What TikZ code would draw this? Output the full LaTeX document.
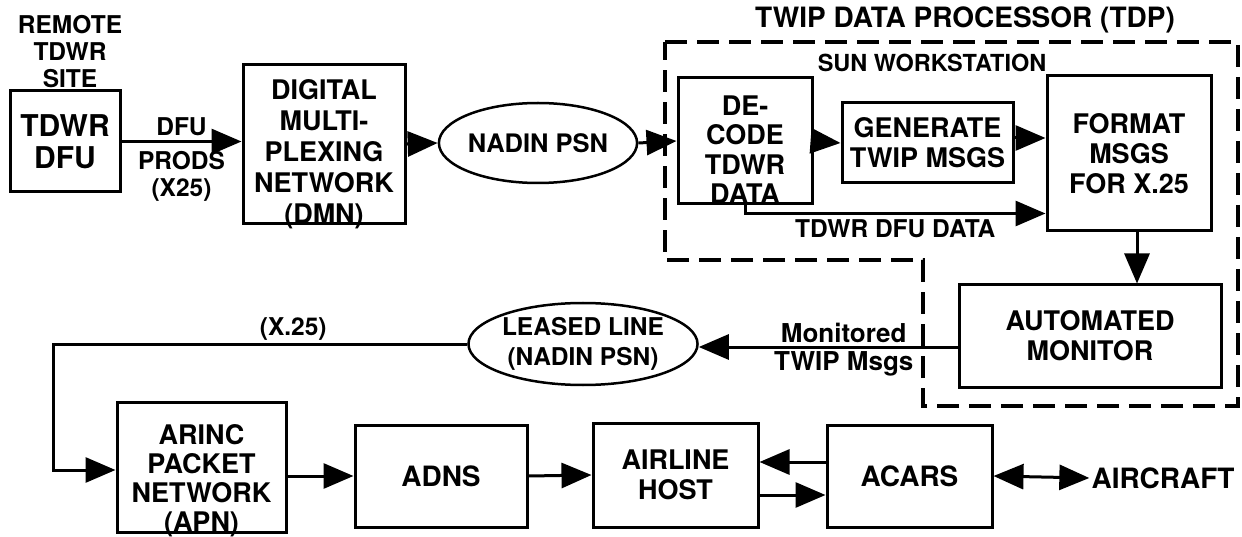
\documentclass[tikz,border=0pt]{standalone}
\usepackage{fontspec}
\setmainfont{TeX Gyre Heros}
\usetikzlibrary{shapes.geometric, arrows.meta, positioning}

\begin{document}
\begin{tikzpicture}[
    x=1pt, y=-1pt,
    box/.style={rectangle, draw, line width=3pt, align=center, inner sep=0pt, font=\fontsize{27}{30}\selectfont\bfseries},
    oval/.style={ellipse, draw, line width=2.5pt, align=center, inner sep=0pt, minimum width=197pt, font=\fontsize{24.5}{30}\selectfont\bfseries},
    tag/.style={align=center, inner sep=2pt, font=\fontsize{24.5}{27}\selectfont\bfseries},
    arrow/.style={line width=3pt, -{Triangle[length=30pt, width=25pt]}},
    tdp/.style={line width=3.5pt, dash pattern=on 22pt off 10pt}
]
\useasboundingbox (0,0) rectangle (1242,537);

\node[box, minimum width=110pt, minimum height=101pt, font=\fontsize{30}{32}\selectfont\bfseries] (dfu) at (65,141.5) {TDWR\\DFU};
\node[tag] (site) at (70,52) {REMOTE\\TDWR\\SITE};
\node[box, minimum width=162pt, minimum height=146pt, text height=159pt, text depth=-14pt, font=\fontsize{27}{31}\selectfont\bfseries] (dmn) at (324,144) {DIGITAL\\MULTI-\\PLEXING\\NETWORK\\(DMN)};
\node[oval, minimum height=80pt, font=\fontsize{25.5}{29}\selectfont\bfseries] (nadin) at (538,143) {NADIN PSN};

\node[tag, font=\fontsize{28}{30}\selectfont\bfseries] (title) at (965,20) {TWIP DATA PROCESSOR (TDP)};
\node[tag, font=\fontsize{23.5}{26}\selectfont\bfseries] (sun) at (932,63) {SUN WORKSTATION};
\node[box, minimum width=134pt, minimum height=118pt, text height=126pt, text depth=-9pt, font=\fontsize{27}{29.5}\selectfont\bfseries] (decode) at (745,141) {DE-\\CODE\\TDWR\\DATA};
\node[box, minimum width=171pt, minimum height=80pt] (gen) at (927.5,143) {GENERATE\\TWIP MSGS};
\node[box, minimum width=164pt, minimum height=155pt] (fmt) at (1129,153.5) {FORMAT\\MSGS\\FOR X.25};
\node[box, minimum width=262pt, minimum height=102pt] (auto) at (1090,336) {AUTOMATED\\MONITOR};

\node[oval, minimum height=82pt] (leased) at (583,344) {LEASED LINE\\(NADIN PSN)};
\node[box, minimum width=169pt, minimum height=130pt, text height=128pt, text depth=0pt, font=\fontsize{27}{29}\selectfont\bfseries] (apn) at (201.5,467) {ARINC\\PACKET\\NETWORK\\(APN)};
\node[box, minimum width=172pt, minimum height=102pt, font=\fontsize{28}{30}\selectfont\bfseries] (adns) at (441,476) {ADNS};
\node[box, minimum width=165pt, minimum height=104pt] (host) at (675.5,475) {AIRLINE\\HOST};
\node[box, minimum width=165pt, minimum height=102pt, font=\fontsize{28}{30}\selectfont\bfseries] (acars) at (909.5,476) {ACARS};
\node[tag, font=\fontsize{28}{30}\selectfont\bfseries] (aircraft) at (1163,478) {AIRCRAFT};
\coordinate (bend) at (53,345);

\draw[tdp] (665,42) -- (1238,42) -- (1238,406) -- (923,406) -- (923,260) -- (665,260) -- cycle;

\draw[arrow] (dfu.east) -- node[tag, above=2pt]{DFU} node[tag, below=6pt]{PRODS\\(X25)} (dfu.east -| dmn.west);
\draw[arrow] (dmn.east) -- (nadin.west);
\draw[arrow] (nadin.east) -- (decode.west);
\draw[arrow] (decode.east) -- (gen.west);
\draw[arrow] ([yshift=5pt]gen.east) -- ([yshift=5pt]gen.east -| fmt.west);
\draw[arrow] (decode.south) |- node[tag, pos=0.75, below=3pt]{TDWR DFU DATA} ([yshift=19pt]fmt.south west);
\draw[arrow] ([xshift=8pt]fmt.south) -- ([xshift=8pt]fmt.south |- auto.north);

\draw[arrow] ([yshift=-11pt]auto.west) -- node[tag, pos=0.44, above=1pt, font=\fontsize{26}{28}\selectfont\bfseries]{Monitored} node[tag, pos=0.44, below=1pt, font=\fontsize{26}{28}\selectfont\bfseries]{TWIP Msgs} ([yshift=-11pt]auto.west -| leased.east);
\draw[arrow] (leased.west) -- node[tag, pos=0.42, above=0pt]{(X.25)} (leased.west -| bend) |- ([yshift=-3pt]apn.west);

\draw[arrow] (adns.west -| apn.east) -- (adns.west);
\draw[arrow] (adns.east) -- (host.west);
\draw[arrow] ([yshift=14pt]acars.west) -- ([yshift=14pt]acars.west -| host.east);
\draw[arrow] ([yshift=-20pt]host.east) -- ([yshift=-20pt]host.east -| acars.west);
\draw[arrow, {Triangle[length=30pt, width=25pt]}-{Triangle[length=30pt, width=25pt]}] (acars.east) -- (aircraft.west);

\end{tikzpicture}
\end{document}
